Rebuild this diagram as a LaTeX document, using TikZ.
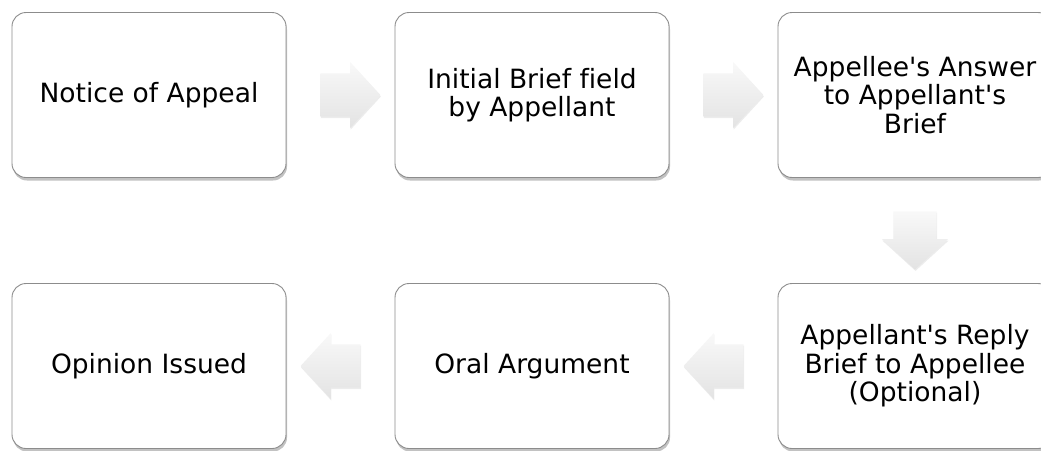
\documentclass[tikz,border=0pt]{standalone}
\usepackage{fontspec}
\setmainfont{DejaVu Sans}[Ligatures=NoCommon]
\usetikzlibrary{shapes,arrows,positioning,calc,shadows}

\begin{document}
\begin{tikzpicture}[x=1pt, y=-1pt, node distance=383pt, auto,
    stage/.style={rectangle, rounded corners=14pt, draw=gray!90, line width=0.9pt, fill=white,
        minimum width=274pt, minimum height=165pt, align=center,
        font=\fontsize{26.5}{28.5}\selectfont,
        drop shadow={shadow xshift=1pt, shadow yshift=-3pt, opacity=0.4, fill=black!60}},
    flow/.style={single arrow, draw=none, top color=gray!5, bottom color=gray!22,
        inner sep=0pt, text height=21.5pt, text depth=21.5pt, text width=0pt,
        single arrow head extend=11.5pt, single arrow tip angle=95, minimum height=60pt,
        drop shadow={shadow xshift=0.5pt, shadow yshift=-1.5pt, opacity=0.15, fill=black!50}}]
    \useasboundingbox (0,0) rectangle (1041,450);
    \node[stage] (notice) at (149,95) {Notice of Appeal};
    \node[stage, right of=notice] (brief) {Initial Brief field\\by Appellant};
    \node[stage, right of=brief] (answer) {Appellee\textquotesingle s Answer\\to Appellant\textquotesingle s\\Brief};
    \node[stage, node distance=271pt, below of=answer] (reply) {Appellant\textquotesingle s Reply\\Brief to Appellee\\(Optional)};
    \node[stage, left of=reply] (oral) {Oral Argument};
    \node[stage, left of=oral] (opinion) {Opinion Issued};

    \node[flow] (notice-brief) at ($(notice)!0.5!(brief)$) {};
    \node[flow] (brief-answer) at ($(brief)!0.5!(answer)$) {};
    \node[flow, rotate=270, minimum height=58pt] (answer-reply) at ($(answer)!0.5!(reply)$) {};
    \node[flow, rotate=180] (reply-oral) at ($(reply)!0.5!(oral)$) {};
    \node[flow, rotate=180] (oral-opinion) at ($(oral)!0.5!(opinion)$) {};
\end{tikzpicture}
\end{document}
